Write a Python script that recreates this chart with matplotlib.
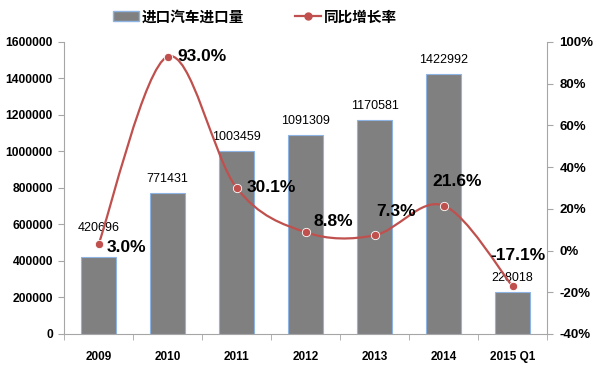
import numpy as np
import matplotlib
matplotlib.use('Agg')
import matplotlib.pyplot as plt
from matplotlib.path import Path
from matplotlib.patches import PathPatch, Patch
from matplotlib.lines import Line2D

plt.rcParams['font.family'] = ['Liberation Sans', 'Noto Sans CJK SC', 'DejaVu Sans']

years = ['2009', '2010', '2011', '2012', '2013', '2014', '2015 Q1']
imports = [420696, 771431, 1003459, 1091309, 1170581, 1422992, 228018]
growth = [3.0, 93.0, 30.1, 8.8, 7.3, 21.6, -17.1]

bar_name = '进口汽车进口量'
line_name = '同比增长率'

red = '#C0504D'
gray = '#808080'
spine_col = '#A6A6A6'


def smooth_path(xs, ys):
    # excel-like smoothed line: catmull-rom turned into bezier segments
    pts = np.column_stack([xs, ys]).astype(float)
    ext = np.vstack([pts[0], pts, pts[-1]])
    verts = [pts[0]]
    codes = [Path.MOVETO]
    for i in range(len(pts) - 1):
        p0, p1, p2, p3 = ext[i], ext[i + 1], ext[i + 2], ext[i + 3]
        c1 = p1 + (p2 - p0) / 6
        c2 = p2 - (p3 - p1) / 6
        verts += [c1, c2, p2]
        codes += [Path.CURVE4] * 3
    return Path(verts, codes)


fig = plt.figure(figsize=(6, 3.7), dpi=100)
ax = fig.add_axes([0.1067, 0.0973, 0.805, 0.7892])
x = np.arange(len(years))

ax.bar(x, imports, width=0.52, color=gray, edgecolor='#8EB4E3', linewidth=0.8, zorder=2)
ax.set_xlim(-0.5, len(years) - 0.5)
ax.set_ylim(0, 1600000)
ax.set_yticks(range(0, 1600001, 200000))
ax.set_yticklabels([str(v) for v in range(0, 1600001, 200000)], fontsize=8.7, fontweight='bold')
ax.set_xticks(x)
ax.set_xticklabels(years, fontsize=8.5, fontweight='bold')
ax.set_xticks(np.arange(-0.5, len(years)), minor=True)
ax.tick_params(axis='x', which='major', length=0, pad=12)
ax.tick_params(axis='x', which='minor', length=4, color=spine_col, direction='out')
ax.tick_params(axis='y', length=4, color=spine_col, pad=4)
for s in ['top', 'right']:
    ax.spines[s].set_visible(False)
for s in ['left', 'bottom']:
    ax.spines[s].set_color(spine_col)

bar_offsets = [21, 10, 10, 10, 10, 10, 10]
for i, v in enumerate(imports):
    ax.annotate(str(v), (x[i], v), xytext=(0, bar_offsets[i]), textcoords='offset points',
                ha='center', va='center', fontsize=9)

ax2 = ax.twinx()
ax2.set_ylim(-40, 100)
ax2.set_yticks(range(-40, 101, 20))
ax2.set_yticklabels([f'{v}%' for v in range(-40, 101, 20)], fontsize=9.5, fontweight='bold')
ax2.tick_params(axis='y', length=4, color=spine_col, pad=5)
for s in ['top', 'left', 'bottom']:
    ax2.spines[s].set_visible(False)
ax2.spines['right'].set_color(spine_col)

ax2.add_patch(PathPatch(smooth_path(x, growth), facecolor='none', edgecolor=red, linewidth=1.6, zorder=3))
ax2.plot(x, growth, 'o', color=red, markersize=6, markeredgecolor='white', markeredgewidth=0.6, zorder=4)

pct_offsets = [(6, -2, 'left'), (7, 0, 'left'), (7, 0, 'left'), (6, 8, 'left'),
               (1, 17, 'left'), (10, 17, 'center'), (4, 22, 'center')]
for i, v in enumerate(growth):
    dx, dy, ha = pct_offsets[i]
    ax2.annotate(f'{v:.1f}%', (x[i], v), xytext=(dx, dy), textcoords='offset points',
                 ha=ha, va='center', fontsize=12.5, fontweight='bold')

handles = [Patch(facecolor=gray, edgecolor='#8EB4E3'),
           Line2D([], [], color=red, marker='o', markersize=5, linewidth=1.6)]
fig.legend(handles, [bar_name, line_name], loc='center', bbox_to_anchor=(0.425, 0.953),
           ncol=2, frameon=False, prop={'size': 10.5, 'weight': 'bold'},
           columnspacing=3.5, handlelength=1.8, handletextpad=0.2)

fig.savefig('out.png', dpi=100)
